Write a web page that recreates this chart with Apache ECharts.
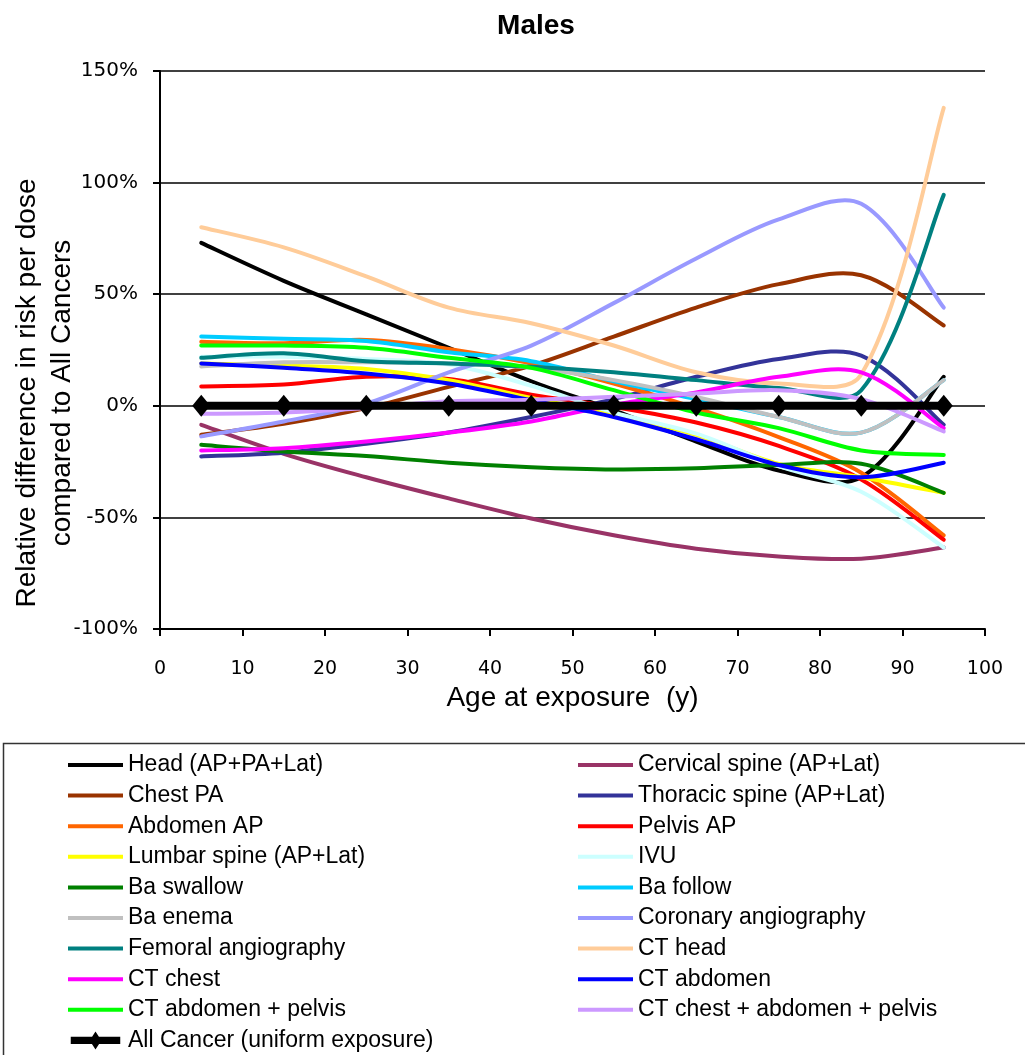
<!DOCTYPE html>
<html>
<head>
<meta charset="utf-8">
<script src="https://cdn.jsdelivr.net/npm/echarts@6/dist/echarts.min.js"></script>
<style>
html,body{margin:0;padding:0;background:#fff;}
#chart{width:1025px;height:1055px;}
</style>
</head>
<body>
<div id="chart"></div>
<script>
// ---- data (values in % relative difference) ----
const ages = [5, 15, 25, 35, 45, 55, 65, 75, 85, 95];
const xTicks = [0, 10, 20, 30, 40, 50, 60, 70, 80, 90, 100];
const yTicks = [-100, -50, 0, 50, 100, 150];

const headAPPALat       = [73, 56, 41, 26, 11, -2, -16, -29, -32, 13];
const cervicalSpine     = [-8.5, -21.5, -32, -41.5, -50.5, -58, -64, -67.5, -68.5, -63.5];
const chestPA           = [-13, -8, -1, 8.5, 18, 31, 44, 54.5, 58.5, 36];
const thoracicSpine     = [-22.7, -21, -17, -12, -5, 3, 13, 21, 22.5, -8.5];
const abdomenAP         = [28.7, 28, 29.5, 25.5, 19, 10, -1, -14, -30, -58];
const pelvisAP          = [8.7, 9.5, 13, 12, 5, -0.5, -7.5, -18, -33, -60];
const lumbarSpine       = [19, 18, 16.5, 11.5, 3.5, -4, -13, -26, -32, -39];
const ivu               = [22, 22, 21, 18.5, 9, -3, -12.5, -27, -38.5, -63.5];
const baSwallow         = [-17.5, -20.5, -22.5, -25.5, -27.5, -28.5, -28, -26.5, -26, -39];
const baFollow          = [31, 30, 29, 24, 20, 11, 3, -5, -12, 11.5];
const baEnema           = [17.6, 19.5, 19.5, 19, 17, 11.5, 4, -5, -12, 11.5];
const coronaryAngio     = [-13.7, -7, 1, 15, 27, 46, 66, 83.5, 90.5, 44];
const femoralAngio      = [21.5, 23.5, 20, 19, 17.5, 15, 11.5, 8, 7, 94.5];
const ctHead            = [80, 71, 58, 44, 37, 27, 15, 10, 14, 133.5];
const ctChest           = [-20, -19, -16, -12, -7, 0.5, 6, 13, 15, -10];
const ctAbdomen         = [19, 17, 14.5, 10, 2.5, -5, -15, -26.5, -32, -25.5];
const ctAbdomenPelvis   = [27, 27, 26, 21.5, 17, 7, -3, -10, -20, -22];
const ctChestAbdPelvis  = [-3.6, -3, -1, 2, 2.7, 4, 5.5, 7, 3, -11.5];
const allCancer         = [0, 0, 0, 0, 0, 0, 0, 0, 0, 0];

const seriesNames = [
  'Head (AP+PA+Lat)', 'Cervical spine (AP+Lat)',
  'Chest PA', 'Thoracic spine (AP+Lat)',
  'Abdomen AP', 'Pelvis AP',
  'Lumbar spine (AP+Lat)', 'IVU',
  'Ba swallow', 'Ba follow',
  'Ba enema', 'Coronary angiography',
  'Femoral angiography', 'CT head',
  'CT chest', 'CT abdomen',
  'CT abdomen + pelvis', 'CT chest + abdomen + pelvis',
  'All Cancer (uniform exposure)'
];
const seriesValues = [
  headAPPALat, cervicalSpine, chestPA, thoracicSpine, abdomenAP, pelvisAP,
  lumbarSpine, ivu, baSwallow, baFollow, baEnema, coronaryAngio,
  femoralAngio, ctHead, ctChest, ctAbdomen, ctAbdomenPelvis, ctChestAbdPelvis,
  allCancer
];
const seriesColors = [
  '#000000', '#993366', '#993300', '#333399', '#FF6600', '#FF0000',
  '#FFFF00', '#CCFFFF', '#008000', '#00CCFF', '#C0C0C0', '#9999FF',
  '#008080', '#FFCC99', '#FF00FF', '#0000FF', '#00FF00', '#CC99FF',
  '#000000'
];

// Spreadsheet-style smoothed curve through pixel points (Bezier, tangent from neighbours)
function smoothPath(pts) {
  const s = 1 / 3;
  const n = pts.length;
  const dist = (a, b) => Math.hypot(b[0] - a[0], b[1] - a[1]);
  const after = [], before = [];
  for (let i = 0; i < n; i++) {
    const p = pts[i];
    if (i === 0) {
      const q = pts[1];
      after[i] = [p[0] + (q[0] - p[0]) / 6, p[1] + (q[1] - p[1]) / 6];
      continue;
    }
    if (i === n - 1) {
      const q = pts[n - 2];
      before[i] = [p[0] - (p[0] - q[0]) / 6, p[1] - (p[1] - q[1]) / 6];
      continue;
    }
    const a = pts[i - 1], b = pts[i + 1];
    const vx = b[0] - a[0], vy = b[1] - a[1];
    const d0 = dist(a, p), d1 = dist(p, b);
    const r1 = d1 / (d0 + d1), r0 = d0 / (d0 + d1);
    after[i] = [p[0] + vx * s * r1, p[1] + vy * s * r1];
    before[i] = [p[0] - vx * s * r0, p[1] - vy * s * r0];
  }
  let d = 'M' + pts[0][0] + ',' + pts[0][1];
  for (let i = 0; i < n - 1; i++) {
    const c1 = after[i], c2 = before[i + 1], q = pts[i + 1];
    d += ' C' + c1[0] + ',' + c1[1] + ' ' + c2[0] + ',' + c2[1] + ' ' + q[0] + ',' + q[1];
  }
  return d;
}

const chart = echarts.init(document.getElementById('chart'), null, {renderer: 'canvas'});

const lastIdx = seriesNames.length - 1;
const series = seriesNames.map((name, i) => {
  const color = seriesColors[i];
  const data = ages.map((a, j) => [a, seriesValues[i][j]]);
  if (i === lastIdx) {
    return {
      name: name,
      type: 'line',
      data: data,
      symbol: 'diamond',
      symbolSize: [18, 22],
      showSymbol: true,
      lineStyle: {color: color, width: 8},
      itemStyle: {color: color},
      z: 5,
      silent: true,
      emphasis: {disabled: true}
    };
  }
  return {
    name: name,
    type: 'custom',
    coordinateSystem: 'cartesian2d',
    data: data,
    encode: {x: 0, y: 1},
    itemStyle: {color: color},
    z: 2,
    silent: true,
    renderItem: function (params, api) {
      if (params.dataIndex !== 0) return null;
      const vals = seriesValues[i];
      const pts = ages.map((a, j) => api.coord([a, vals[j]]));
      return {
        type: 'path',
        shape: {pathData: smoothPath(pts)},
        style: {fill: 'none', stroke: color, lineWidth: 4, lineCap: 'round', lineJoin: 'round'},
        silent: true
      };
    }
  };
});

const lineIcon = 'path://M0,-2H55V2H0Z';
const allIcon = 'path://M0,-4H55V4H0Z M27.5,-10 L34,0 L27.5,10 L21,0Z';
const legendItem = (name) => ({
  name: name,
  icon: name === seriesNames[lastIdx] ? allIcon : lineIcon
});
const leftNames = seriesNames.filter((n, i) => i % 2 === 0).map(legendItem);
const rightNames = seriesNames.filter((n, i) => i % 2 === 1).map(legendItem);

const legendCommon = {
  orient: 'vertical',
  top: 753,
  padding: 0,
  itemWidth: 55,
  itemHeight: 18,
  itemGap: 6.6,
  selectedMode: false,
  textStyle: {fontFamily: 'Liberation Sans', fontSize: 23, color: '#000', lineHeight: 24}
};

chart.setOption({
  animation: false,
  backgroundColor: '#fff',
  title: {
    text: 'Males',
    left: 531,
    top: 7,
    textAlign: 'center',
    textStyle: {fontFamily: 'Liberation Sans', fontWeight: 'bold', fontSize: 28, color: '#000'}
  },
  grid: {left: 160, right: 40, top: 71, bottom: 426, containLabel: false},
  xAxis: {
    type: 'value',
    min: xTicks[0],
    max: xTicks[xTicks.length - 1],
    interval: 10,
    name: 'Age at exposure  (y)',
    nameLocation: 'middle',
    nameGap: 50,
    nameTextStyle: {fontFamily: 'Liberation Sans', fontSize: 28, color: '#000'},
    axisLine: {show: true, onZero: false, lineStyle: {color: '#000', width: 2}},
    axisTick: {show: true, length: 7, inside: false, lineStyle: {color: '#000', width: 2}},
    axisLabel: {fontFamily: 'DejaVu Sans', fontSize: 19, color: '#000', margin: 31},
    splitLine: {show: false}
  },
  yAxis: {
    type: 'value',
    min: yTicks[0],
    max: yTicks[yTicks.length - 1],
    interval: 50,
    axisLine: {show: true, lineStyle: {color: '#000', width: 2}},
    axisTick: {show: true, length: 7, inside: false, lineStyle: {color: '#000', width: 2}},
    axisLabel: {fontFamily: 'DejaVu Sans', fontSize: 20, color: '#000', margin: 22, formatter: '{value}%'},
    splitLine: {show: true, lineStyle: {color: '#000', width: 1.5}}
  },
  legend: [
    Object.assign({}, legendCommon, {left: 68, data: leftNames}),
    Object.assign({}, legendCommon, {left: 578, data: rightNames})
  ],
  graphic: [
    {
      type: 'rect',
      left: 1, top: 741,
      shape: {width: 1100, height: 400},
      style: {fill: 'none', stroke: '#333', lineWidth: 1.5},
      silent: true
    },
    {
      type: 'text',
      x: 45, y: 393,
      rotation: Math.PI / 2,
      style: {
        text: 'Relative difference in risk per dose\ncompared to All Cancers',
        fontFamily: 'Liberation Sans',
        fontSize: 28,
        lineHeight: 35,
        fill: '#000',
        align: 'center',
        verticalAlign: 'middle'
      },
      silent: true
    }
  ],
  series: series
});
</script>
</body>
</html>
